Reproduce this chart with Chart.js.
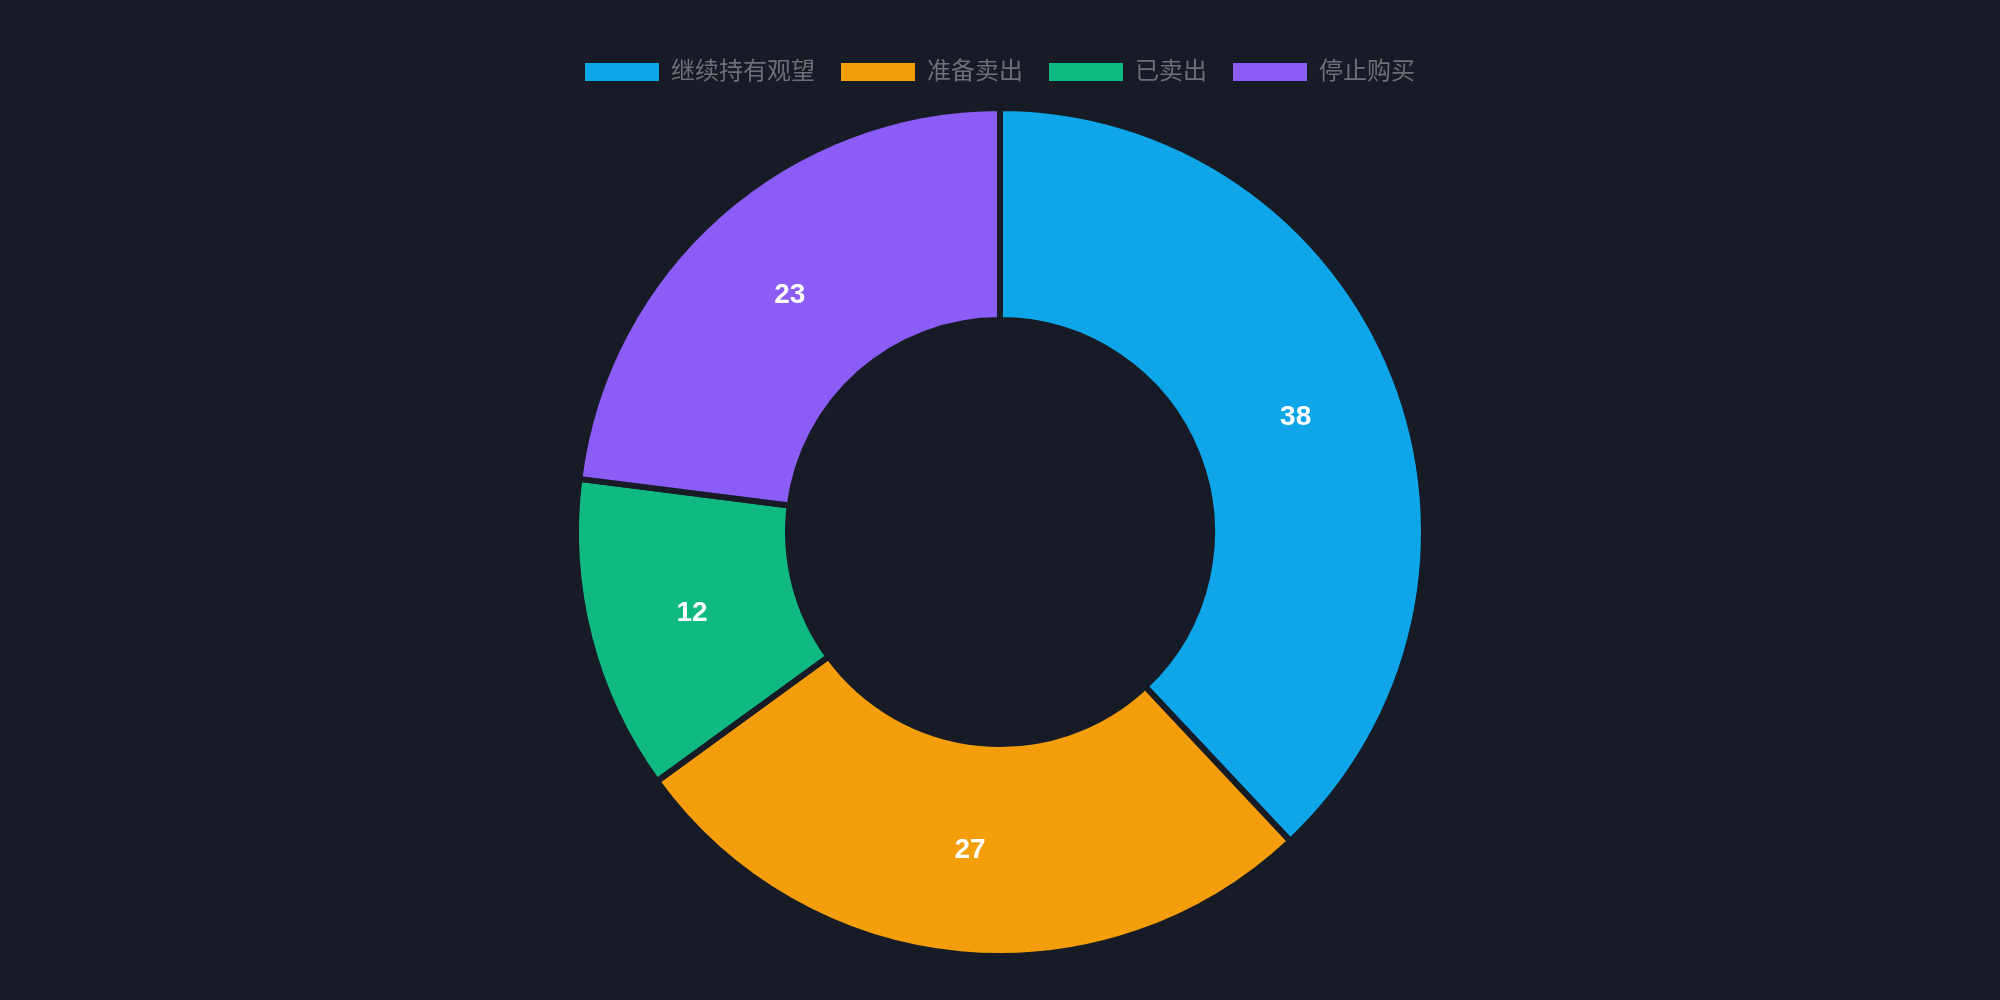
<!DOCTYPE html>
<html>
<head>
<meta charset="utf-8">
<script src="https://cdn.jsdelivr.net/npm/chart.js@4/dist/chart.umd.min.js"></script>
<style>
  html, body { margin: 0; padding: 0; background: #161b26; }
  #wrap { width: 2000px; height: 1000px; position: relative; }
</style>
</head>
<body>
<div id="wrap"><canvas id="holdChart"></canvas></div>
<script>
const labels = ['继续持有观望', '准备卖出', '已卖出', '停止购买'];
const values = [38, 27, 12, 23];
const colors = ['#0ea5e9', '#f59e0b', '#10b981', '#8b5cf6'];

const bg = '#161b26';
const fontFamily = "'Helvetica Neue', Helvetica, Arial, 'Noto Sans CJK SC', sans-serif";

// draw the value in the middle of each slice
const sliceLabels = {
    id: 'sliceLabels',
    afterDatasetsDraw(chart) {
        const ctx = chart.ctx;
        const meta = chart.getDatasetMeta(0);
        ctx.save();
        ctx.fillStyle = '#ffffff';
        ctx.font = 'bold 28px ' + fontFamily;
        ctx.textAlign = 'center';
        ctx.textBaseline = 'middle';
        meta.data.forEach((arc, i) => {
            const pos = arc.tooltipPosition();
            ctx.fillText(String(values[i]), pos.x, pos.y + 2);
        });
        ctx.restore();
    }
};

const defaultLabels = Chart.overrides.doughnut.plugins.legend.labels.generateLabels;

new Chart(document.getElementById('holdChart').getContext('2d'), {
    type: 'doughnut',
    data: {
        labels: labels,
        datasets: [{
            data: values,
            backgroundColor: colors,
            borderColor: bg,
            borderWidth: 6
        }]
    },
    options: {
        responsive: true,
        maintainAspectRatio: false,
        animation: false,
        cutout: '50%',
        radius: 424,
        layout: { padding: { top: 34, bottom: 30 } },
        plugins: {
            legend: {
                position: 'top',
                labels: {
                    color: '#6e7077',
                    boxWidth: 74,
                    boxHeight: 18,
                    padding: 26,
                    font: { size: 24, family: fontFamily },
                    // no dark outline round the legend boxes
                    generateLabels: (chart) => defaultLabels(chart).map(item => ({ ...item, lineWidth: 0 }))
                }
            },
            tooltip: { enabled: false }
        }
    },
    plugins: [sliceLabels]
});
</script>
</body>
</html>
